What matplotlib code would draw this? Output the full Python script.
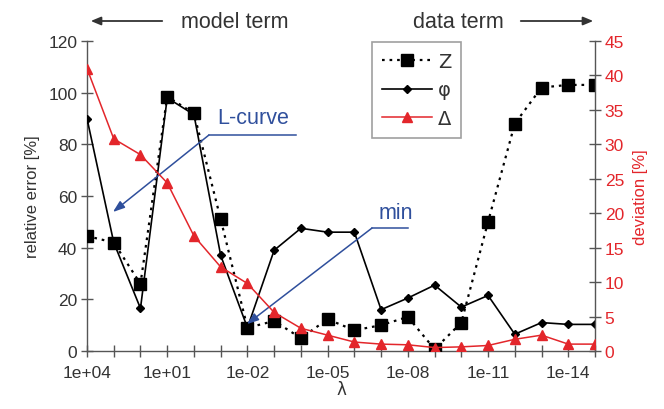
import matplotlib
matplotlib.use("Agg")
import matplotlib.pyplot as plt
from matplotlib.ticker import FixedLocator, FixedFormatter, NullLocator
import numpy as np

plt.rcParams['font.family'] = ['Liberation Sans Narrow', 'Liberation Sans', 'DejaVu Sans']

# ---- data ----
exponents = list(range(4, -16, -1))
lam = [10.0 ** e for e in exponents]
z_err = [44.5, 42, 26, 98.5, 92, 51, 9, 11.6, 5, 12.3, 8, 10, 13.2, 0.7, 11, 50, 88, 102, 103, 103]
phi_err = [90, 42, 16.5, 98, 91.5, 37, 9, 39, 47.5, 46, 46, 16, 20.5, 25.5, 17, 21.5, 6.5, 11, 10.3, 10.3]
deviation = [41, 30.8, 28.5, 24.4, 16.7, 12.2, 9.8, 5.6, 3.3, 2.3, 1.3, 1.0, 0.9, 0.5, 0.6, 0.8, 1.7, 2.3, 1.0, 1.0]
labeled_exponents = [4, 1, -2, -5, -8, -11, -14]
left_ticks = [0, 20, 40, 60, 80, 100, 120]
right_ticks = [0, 5, 10, 15, 20, 25, 30, 35, 40, 45]

RED = '#e3262b'
BLUE = '#2f4f9c'
GRAY = '#555555'
TXT = '#333333'

fig = plt.figure(figsize=(6.64, 4.10), dpi=100)
ax = fig.add_axes([87/664, 1-352/410, (595-87)/664, (352-42)/410])
ax2 = ax.twinx()

ax.set_xscale('log')
ax.set_xlim(lam[0], lam[-1])
ax.set_ylim(0, 120)
ax2.set_ylim(0, 45)

l_z, = ax.plot(lam, z_err, color='black', ls=(0, (1.2, 2.2)), lw=1.6,
               marker='s', ms=8, mfc='black', mec='black', zorder=4)
l_phi, = ax.plot(lam, phi_err, color='black', ls='-', lw=1.2,
                 marker='D', ms=4.5, mfc='black', mec='black', zorder=3)
l_d, = ax2.plot(lam, deviation, color=RED, ls='-', lw=1.1,
                marker='^', ms=6.5, mfc=RED, mec=RED, zorder=3)

# x ticks
ax.xaxis.set_major_locator(FixedLocator(lam))
ax.xaxis.set_minor_locator(NullLocator())
xlabels = [f"{10.0**e:.0e}" if e in labeled_exponents else "" for e in exponents]
ax.xaxis.set_major_formatter(FixedFormatter(xlabels))
ax.set_xlabel('λ', fontsize=12, color=TXT, labelpad=0, family=['DejaVu Sans'])

ax.set_yticks(left_ticks)
ax2.set_yticks(right_ticks)

for a in (ax, ax2):
    a.spines['top'].set_visible(False)
    for s in a.spines.values():
        s.set_color(GRAY)
        s.set_linewidth(1.0)
ax2.spines['left'].set_visible(False)
ax2.spines['bottom'].set_visible(False)
ax.spines['right'].set_visible(False)

ax.tick_params(axis='both', direction='inout', length=8, width=1, color=GRAY,
               labelsize=12.5, labelcolor=TXT, pad=3)
ax.tick_params(axis='x', pad=6)
ax2.tick_params(axis='y', direction='inout', length=8, width=1, color=GRAY,
                labelsize=12.5, labelcolor=RED, pad=3)

ax.set_ylabel('relative error [%]', fontsize=12, color=TXT, labelpad=6)
ax2.set_ylabel('deviation [%]', fontsize=12, color=RED, labelpad=6)

# top annotations
fig.text(235/664, 1-22/410, 'model term', ha='center', va='center', fontsize=15.5, color=TXT)
fig.text(458/664, 1-22/410, 'data term', ha='center', va='center', fontsize=15.5, color=TXT)
fig.add_artist(matplotlib.patches.FancyArrowPatch((165/664, 1-22/410), (88/664, 1-22/410),
               transform=fig.transFigure, arrowstyle='-|>,head_length=6,head_width=2.5',
               color=TXT, lw=1.3))
fig.add_artist(matplotlib.patches.FancyArrowPatch((518/664, 1-22/410), (596/664, 1-22/410),
               transform=fig.transFigure, arrowstyle='-|>,head_length=6,head_width=2.5',
               color=TXT, lw=1.3))

# L-curve annotation
ax.plot([10**-3.82, 10**-0.56], [83.6, 83.6], color=BLUE, lw=1.1, zorder=5)
ax.annotate('', xy=(10**3.03, 53.8), xytext=(10**-0.56, 83.6),
            arrowprops=dict(arrowstyle='-|>,head_length=0.7,head_width=0.25', color=BLUE, lw=1.1,
                            shrinkA=0, shrinkB=0), zorder=5)
ax.text(10**-2.2, 90.4, 'L-curve', color=BLUE, fontsize=15.5, ha='center', va='center')

# min annotation
ax.plot([10**-8.0, 10**-6.66], [47.6, 47.6], color=BLUE, lw=1.1, zorder=5)
ax.annotate('', xy=(10**-1.98, 10.4), xytext=(10**-6.66, 47.6),
            arrowprops=dict(arrowstyle='-|>,head_length=0.7,head_width=0.25', color=BLUE, lw=1.1,
                            shrinkA=0, shrinkB=0), zorder=5)
ax.text(10**-7.56, 53.8, 'min', color=BLUE, fontsize=15.5, ha='center', va='center')

# legend
leg = fig.legend([l_z, l_phi, l_d], ['Z', 'φ', 'Δ'], loc='upper left',
                 bbox_to_anchor=(372/664, 1-43/410), frameon=True, fancybox=False,
                 edgecolor='#888888', handlelength=2.6, handletextpad=0.3,
                 borderpad=0.5, labelspacing=0.5, borderaxespad=0,
                 prop={'family': ['DejaVu Sans'], 'size': 14})
leg.get_frame().set_linewidth(1.2)
for t in leg.get_texts():
    t.set_color(TXT)

fig.savefig('out.png', dpi=100)
